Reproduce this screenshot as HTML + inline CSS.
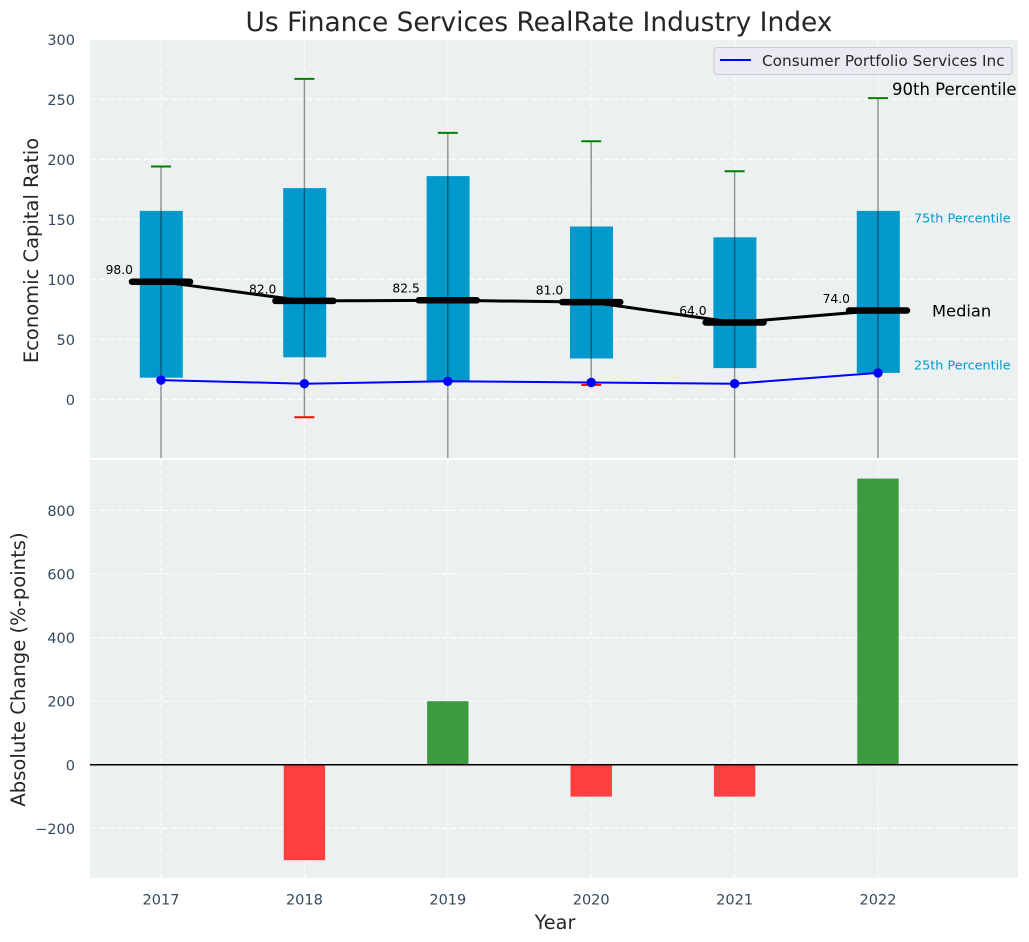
<!DOCTYPE html>
<html lang="en">
<head>
<meta charset="utf-8">
<title>Us Finance Services RealRate Industry Index</title>
<style>
html,body{margin:0;padding:0;background:#fff;width:1029px;height:942px;overflow:hidden}
svg{display:block;font-family:"DejaVu Sans","Liberation Sans",sans-serif}
</style>
</head>
<body>
<svg id="chart" xmlns="http://www.w3.org/2000/svg" width="1029" height="942" viewBox="0 0 1029 942">
  <defs>
    <clipPath id="clip-top"><rect x="90" y="40" width="928" height="418"/></clipPath>
    <clipPath id="clip-bottom"><rect x="90" y="460" width="928" height="418"/></clipPath>
  </defs>
  <rect x="90" y="40" width="928" height="418" fill="#ecf0f1"/>
  <rect x="90" y="460" width="928" height="418" fill="#ecf0f1"/>
  <g id="grid"></g>
  <g id="top-marks" clip-path="url(#clip-top)"></g>
  <g id="bottom-marks" clip-path="url(#clip-bottom)"></g>
  <g id="labels"></g>
  <g id="annotations"></g>
  <text x="539" y="31" text-anchor="middle" font-size="26.45px" fill="#262626">Us Finance Services RealRate Industry Index</text>
  <text transform="translate(38,250.5) rotate(-90)" text-anchor="middle" font-size="19.5px" fill="#262626">Economic Capital Ratio</text>
  <text transform="translate(25,669.5) rotate(-90)" text-anchor="middle" font-size="19.6px" fill="#262626">Absolute Change (%-points)</text>
  <text x="555" y="929" text-anchor="middle" font-size="19.3px" fill="#262626">Year</text>
  <g>
    <rect x="714" y="47.5" width="298" height="27" rx="3" fill="#eaeaf2" fill-opacity="0.85" stroke="#cccccc"/>
    <line x1="720" x2="751" y1="60" y2="60" stroke="#0000ff" stroke-width="2"/>
    <text x="762" y="66" font-size="15.3px" fill="#262626">Consumer Portfolio Services Inc</text>
  </g>
</svg>
<script>
const years = ['2017', '2018', '2019', '2020', '2021', '2022'];
const p90 = [194, 267, 222, 215, 190, 251];
const p75 = [157, 176, 186, 144, 135, 157];
const median = [98, 82, 82.5, 81, 64, 74];
const p25 = [18, 35, 15, 34, 26, 22];
const p10 = [-60, -15, -60, 12, -60, -60];
const company = [16, 13, 15, 14, 13, 22];
const change = [0, -300, 200, -100, -100, 900];
const topTicks = [0, 50, 100, 150, 200, 250, 300];
const bottomTicks = [-200, 0, 200, 400, 600, 800];

const NS = 'http://www.w3.org/2000/svg';
const grid = document.getElementById('grid');
const topMarks = document.getElementById('top-marks');
const bottomMarks = document.getElementById('bottom-marks');
const labels = document.getElementById('labels');
const annotations = document.getElementById('annotations');

function xPos(i) { return 161 + i * 143.4; }
function yTop(v) { return 399.3 - v * 1.2; }
function yBottom(v) { return 764.8 - v * 0.318; }

function make(tag, parent, props, content) {
  const node = document.createElementNS(NS, tag);
  Object.keys(props).forEach(function (k) { node.setAttribute(k, props[k]); });
  if (content !== undefined) node.textContent = content;
  parent.appendChild(node);
  return node;
}

const gridStyle = { stroke: '#ffffff', 'stroke-width': 1.1, 'stroke-dasharray': '6 3', 'stroke-opacity': 0.9 };
function gridLine(x1, y1, x2, y2) {
  return make('line', grid, Object.assign({ x1: x1, y1: y1, x2: x2, y2: y2 }, gridStyle));
}

topTicks.forEach(function (t) {
  const y = yTop(t);
  if (y >= 40) {
    const line = gridLine(90, y, 1018, y);
    
    
  }
  const label = make('text', labels, { x: 75, y: y + 5.7, 'text-anchor': 'end', 'font-size': '14.5px', fill: '#34495e' }, String(t));
  
  
});

bottomTicks.forEach(function (t) {
  const y = yBottom(t);
  const line = gridLine(90, y, 1018, y);
  
  
  const text = t < 0 ? '\u2212' + Math.abs(t) : String(t);
  const label = make('text', labels, { x: 75, y: y + 5.5, 'text-anchor': 'end', 'font-size': '14.5px', fill: '#34495e' }, text);
  
  
});

years.forEach(function (year, i) {
  const x = xPos(i);
  const a = gridLine(x, 40, x, 458);
  
  
  const b = gridLine(x, 460, x, 878);
  
  
  const label = make('text', labels, { x: x, y: 904.5, 'text-anchor': 'middle', 'font-size': '14.5px', fill: '#34495e' }, year);
  
  
});

/* Interquartile boxes */
years.forEach(function (year, i) {
  const x = xPos(i);
  const box = make('rect', topMarks, { x: x - 21.2, y: yTop(p75[i]), width: 43, height: yTop(p25[i]) - yTop(p75[i]), fill: '#0099cc' });
  
  
});

/* Whiskers and their end caps */
years.forEach(function (year, i) {
  const x = xPos(i);
  const whisker = make('line', topMarks, { x1: x, x2: x, y1: yTop(p90[i]), y2: yTop(p10[i]), stroke: '#000000', 'stroke-opacity': 0.42, 'stroke-width': 1.4 });
  
  
  const high = make('line', topMarks, { x1: x - 10, x2: x + 10, y1: yTop(p90[i]), y2: yTop(p90[i]), stroke: '#008000', 'stroke-width': 2 });
  
  
  const low = make('line', topMarks, { x1: x - 10, x2: x + 10, y1: yTop(p10[i]), y2: yTop(p10[i]), stroke: '#ff0000', 'stroke-width': 2 });
  
  
});

/* Median trend */
const medianPoints = median.map(function (v, i) { return xPos(i) + ',' + yTop(v); }).join(' ');
const medianLine = make('polyline', topMarks, { points: medianPoints, fill: 'none', stroke: '#000000', 'stroke-width': 3, 'stroke-linejoin': 'round' });



years.forEach(function (year, i) {
  const x = xPos(i);
  const y = yTop(median[i]);
  const bar = make('line', topMarks, { x1: x - 29, x2: x + 29, y1: y, y2: y, stroke: '#000000', 'stroke-width': 6.5, 'stroke-linecap': 'round' });
  
  
  const label = make('text', annotations, { x: x - 28, y: y - 7.6, 'text-anchor': 'end', 'font-size': '12.3px', fill: '#000000' }, median[i].toFixed(1));
  
  
});

/* Company series */
const companyPoints = company.map(function (v, i) { return xPos(i) + ',' + yTop(v); }).join(' ');
const companyLine = make('polyline', topMarks, { points: companyPoints, fill: 'none', stroke: '#0000ff', 'stroke-width': 2 });


company.forEach(function (v, i) {
  const dot = make('circle', topMarks, { cx: xPos(i), cy: yTop(v), r: 4.7, fill: '#0000ff' });
  
  
});

/* Absolute change bars */
change.forEach(function (v, i) {
  const x = xPos(i);
  const bar = make('rect', bottomMarks, { x: x - 20.7, y: Math.min(yBottom(v), yBottom(0)), width: 41.4, height: Math.abs(yBottom(v) - yBottom(0)), fill: v >= 0 ? '#3a9c3e' : '#ff3f3f' });
  
  
});
const zeroLine = make('line', bottomMarks, { x1: 90, x2: 1018, y1: yBottom(0), y2: yBottom(0), stroke: '#000000', 'stroke-width': 1.5 });



/* Percentile annotations, positioned against the last year */
const last = years.length - 1;
const lastX = xPos(last);
const note90 = make('text', annotations, { x: lastX + 14, y: yTop(p90[last]) - 3.1, 'font-size': '16.5px', fill: '#000000' }, '90th Percentile');


const note75 = make('text', annotations, { x: lastX + 36, y: yTop(p75[last]) + 11.4, 'font-size': '12.8px', fill: '#0099cc' }, '75th Percentile');


const noteMedian = make('text', annotations, { x: lastX + 54, y: yTop(median[last]) + 5.9, 'font-size': '16.3px', fill: '#000000' }, 'Median');


const note25 = make('text', annotations, { x: lastX + 36, y: yTop(p25[last]) - 3.6, 'font-size': '12.8px', fill: '#0099cc' }, '25th Percentile');


</script>
</body>
</html>
